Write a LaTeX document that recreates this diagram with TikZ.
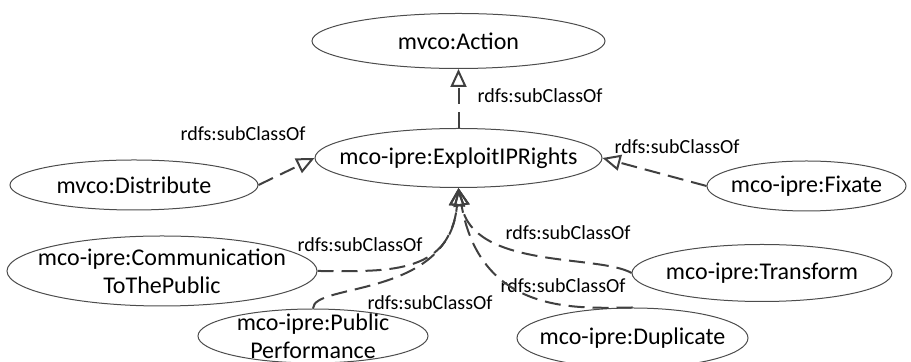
\documentclass[tikz,border=0pt]{standalone}
\usepackage{fontspec}
\setmainfont{Carlito}
\usetikzlibrary{arrows.meta,shapes.geometric}
\begin{document}
\begin{tikzpicture}
[x=0.5pt,y=-0.5pt,
 nodedecorate/.style={shape=ellipse,draw=black!70,line width=0.5pt,inner sep=0pt},
 textdecorate/.style={inner sep=0pt,align=center,font=\fontsize{12}{14}\selectfont},
 linedecorate/.style={-{Triangle[open,length=9pt,width=8pt]},line width=1pt,draw=black!75,%
   dash pattern=on 8pt off 4pt},
 labeldecorate/.style={inner sep=0pt,font=\fontsize{10}{12}\selectfont}]
\useasboundingbox (0,0) rectangle (911,362);
%% nodes or vertices
\foreach \nodename/\x/\y/\w/\h/\nodetext in {action/458.5/41/293/55/{mvco:Action},
  exploit/458.5/158/287/59/{mco-ipre:ExploitIPRights}, dist/134/185/248/50/{mvco:Distribute},
  fix/806.5/186/199/50/{mco-ipre:Fixate}, comm/162/271/310/70/{mco-ipre:Communication\\ToThePublic},
  trans/762/273/260/57/{mco-ipre:Transform}, pub/313/336/230/54/{mco-ipre:Public\\Performance},
  dup/632.5/338/231/60/{mco-ipre:Duplicate}} {
  \node (\nodename) at (\x,\y) [nodedecorate,minimum width=\w*0.5pt,minimum height=\h*0.5pt] {};
  \node (\nodename-txt) at (\nodename.center) [textdecorate] {\nodetext};
}
%% labels
\foreach \lblname/\x/\y in {lact/540/96, ldist/243/134, lfix/677/147, lcomm/360/245,
  ltrans/568/233, ldup/563/286, lpub/430/303} {
  \node (\lblname) at (\x,\y) [labeldecorate] {rdfs:subClassOf};
}
%% edges or lines
\path
(exploit.north) edge[linedecorate] (action.south)
(dist.east) edge[linedecorate] (exploit.west)
(fix.west) edge[linedecorate] (exploit.east)
(comm.east) edge[linedecorate,out=0,in=-95,in looseness=1.4] (exploit.south)
(pub.north) edge[linedecorate,out=90,in=-95,out looseness=0.35,in looseness=1.5] (exploit.south)
(trans.west) edge[linedecorate,out=150,in=-80,out looseness=0.5,in looseness=1.1] (exploit.south)
(dup.north) edge[linedecorate,out=180,in=-80,out looseness=0.6,in looseness=1.6] (exploit.south);
\end{tikzpicture}
\end{document}
